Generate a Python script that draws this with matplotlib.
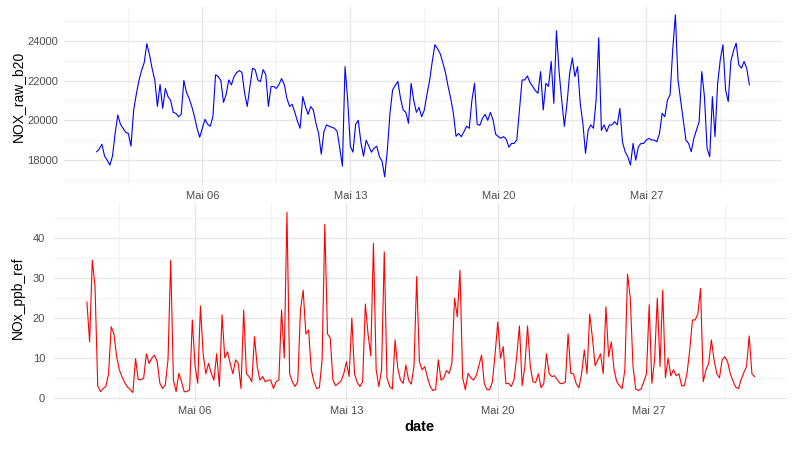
import pandas as pd
import matplotlib
matplotlib.use("Agg")
import matplotlib.pyplot as plt
import matplotlib.dates as mdates

plt.rcParams["font.family"] = ["Liberation Sans", "DejaVu Sans"]

# 3-hourly readings, 1 May 00:00 -> 31 May 21:00
dates = pd.date_range("2023-05-01 00:00", periods=248, freq="3h")

nox_raw_b20 = [
    18420, 18560, 18800, 18200, 18000, 17750, 18200, 19340,
    20270, 19800, 19600, 19400, 19340, 18700, 20500, 21300,
    22000, 22500, 22900, 23850, 23300, 22600, 22030, 20700,
    21800, 20600, 21600, 21200, 21000, 20400, 20350, 20180,
    20300, 22000, 21400, 21100, 20700, 20200, 19600, 19150,
    19600, 20050, 19800, 19700, 20200, 22290, 22200, 22000,
    20900, 21300, 22030, 21780, 22200, 22400, 22500, 22400,
    21360, 20700, 21700, 22620, 22540, 22030, 21950, 22550,
    22300, 20700, 21700, 21700, 21600, 21800, 22100, 21800,
    21100, 20700, 20800, 20400, 19950, 19600, 21190, 20700,
    20300, 20690, 20520, 19850, 19340, 18300, 19430, 19770,
    19700, 19650, 19600, 19450, 18600, 17700, 22700, 21020,
    18700, 18400, 19800, 20000, 18900, 18200, 19000, 18700,
    18400, 18600, 18700, 18170, 17950, 17160, 18500, 20350,
    21530, 21750, 21950, 21100, 20520, 20400, 19850, 21860,
    21000, 20400, 20650, 20180, 20520, 21300, 22000, 22950,
    23800, 23600, 23350, 22900, 22400, 21700, 21100, 20350,
    19200, 19340, 19180, 19430, 19700, 19600, 21000, 21860,
    19800, 19750, 20100, 20300, 20000, 20400, 20020, 19300,
    19180, 19100, 19180, 19050, 18650, 18840, 18840, 19010,
    20500, 22030, 22030, 22230, 21900, 21700, 21500, 21360,
    22450, 20520, 21860, 21700, 22960, 20850, 24500, 22450,
    21000, 19700, 20850, 22370, 23130, 22200, 22700, 20850,
    19850, 18340, 19510, 19770, 19600, 21000, 24150, 19500,
    19770, 19430, 19770, 19770, 19930, 19770, 20600, 18900,
    18420, 18170, 17750, 18840, 18000, 18670, 18840, 18840,
    19010, 19090, 19010, 19010, 18920, 19340, 20350, 20180,
    21020, 21280, 23550, 25300, 22030, 21000, 20020, 19010,
    18840, 18420, 19100, 19510, 19930, 22450, 21190, 18600,
    18170, 21190, 19180, 21860, 23050, 23800, 21530, 20940,
    22960, 23500, 23880, 22790, 22620, 22960, 22620, 21780,
]

nox_ppb_ref = [
    24, 14, 34.5, 28, 3, 1.5, 2.3, 2.8,
    6, 17.8, 16, 10.3, 7, 5.2, 3.8, 2.7,
    2, 1.3, 9.8, 4.5, 4.5, 4.9, 11, 8.6,
    9.9, 10.7, 9, 3.6, 2.3, 3.2, 9.5, 34.5,
    4.4, 1.5, 6.1, 4, 1.5, 1.5, 2, 19.5,
    8, 3.6, 23, 11, 6, 8.6, 6.1, 4.4,
    11, 2.8, 20.8, 10, 11.5, 8.6, 6, 9.5,
    8.6, 2.3, 22, 6, 5.3, 4, 15.3, 7.8,
    4.4, 5.3, 4, 4.4, 4.4, 2.3, 4, 4.4,
    22, 10, 46.5, 6, 4, 2.8, 4, 22,
    27, 16, 17, 7, 4, 2.3, 2.5, 9.5,
    43.5, 16, 15, 4.5, 3, 3.6, 4.2, 6,
    9, 5.3, 20, 6, 3.8, 2.8, 4, 23.5,
    16, 10.5, 38.7, 7, 2.8, 7, 36.6, 5,
    2.8, 2.2, 14.5, 7.4, 4.4, 3.6, 8.2, 4.4,
    3.4, 8, 30.4, 9, 7, 7.8, 5, 2.8,
    1.8, 2, 9.5, 4.4, 4.9, 6.8, 6.1, 8.6,
    25, 20.3, 32, 5, 2, 6.1, 5, 4.4,
    5.5, 8, 10.7, 3.5, 2, 2, 4, 11,
    19, 9.9, 12.8, 3.5, 3.6, 2.8, 4.5, 10.3,
    18, 3, 7.8, 18, 8, 4, 3.8, 6,
    2.5, 3.5, 11, 6, 5.3, 5.5, 4.5, 3.6,
    3.5, 4, 16, 6.1, 6, 3.5, 2.5, 6,
    12, 6, 21, 15, 8, 9.5, 11, 6,
    22.8, 10.3, 14, 7, 4, 3, 2.3, 7,
    31, 25, 8, 2.2, 1.8, 2.2, 4, 6,
    23.3, 3.6, 9.5, 25, 7.8, 27, 5, 9.9,
    5.5, 7, 5.5, 6, 3, 3, 6.1, 12,
    19.5, 19.5, 21, 27.4, 4, 7, 8.6, 14.5,
    9.5, 6, 5, 9.5, 10.3, 9, 6, 4.2,
    2.6, 2.3, 4.5, 6.3, 7.8, 15.5, 6, 5.3,
]

# x breaks (German month labels) and minor breaks in between
x_breaks = pd.to_datetime(["2023-05-06", "2023-05-13", "2023-05-20", "2023-05-27"])
x_labels = ["Mai 06", "Mai 13", "Mai 20", "Mai 27"]
x_minor = pd.to_datetime(["2023-05-02 12:00", "2023-05-09 12:00", "2023-05-16 12:00",
                          "2023-05-23 12:00", "2023-05-30 12:00"])

top_breaks = [18000, 20000, 22000, 24000]
top_minor = [17000, 19000, 21000, 23000, 25000]
bottom_breaks = [0, 10, 20, 30, 40]
bottom_minor = [5, 15, 25, 35, 45]


def minimal_theme(ax, yb, ym):
    ax.set_xticks(mdates.date2num(x_breaks), x_labels)
    ax.set_xticks(mdates.date2num(x_minor), minor=True)
    ax.set_yticks(yb, [str(v) for v in yb])
    ax.set_yticks(ym, minor=True)
    ax.grid(which="major", color="#E6E6E6", linewidth=0.9)
    ax.grid(which="minor", color="#F0F0F0", linewidth=0.6)
    ax.set_axisbelow(True)
    for s in ax.spines.values():
        s.set_visible(False)
    ax.tick_params(which="both", length=0, labelsize=8, labelcolor="#4D4D4D")
    ax.margins(x=0.05, y=0.05)


fig = plt.figure(figsize=(8, 4.5), dpi=100)

# Top panel: raw sensor signal
ax1 = fig.add_axes([0.080, 0.589, 0.8975, 0.396])
ax1.plot(dates, nox_raw_b20, color="blue", linewidth=0.8)
minimal_theme(ax1, top_breaks, top_minor)
ax1.tick_params(axis="x", pad=4)
ax1.tick_params(axis="y", pad=4)
fig.text(17.5 / 800, 1 - 96 / 450, "NOX_raw_b20", rotation=90,
         ha="center", va="center", fontsize=10)

# Bottom panel: reference NOx
ax2 = fig.add_axes([0.0669, 0.1078, 0.9181, 0.4402])
ax2.plot(dates, nox_ppb_ref, color="red", linewidth=0.8)
minimal_theme(ax2, bottom_breaks, bottom_minor)
ax2.tick_params(axis="x", pad=3)
ax2.tick_params(axis="y", pad=6)
fig.text(18 / 800, 1 - 298 / 450, "NOx_ppb_ref", rotation=90,
         ha="center", va="center", fontsize=10)
fig.text(419 / 800, 1 - 427 / 450, "date", ha="center", va="center",
         fontsize=10.5, fontweight="bold")

fig.savefig("out.png", dpi=100)
